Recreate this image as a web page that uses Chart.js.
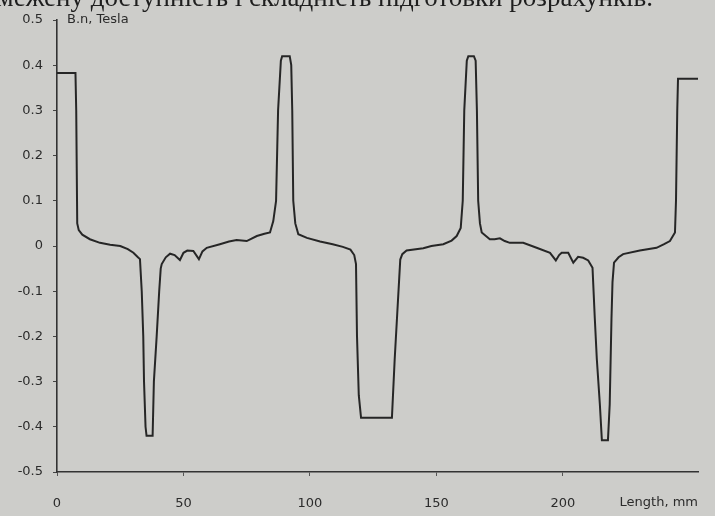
<!DOCTYPE html>
<html>
<head>
<meta charset="utf-8">
<script src="https://cdn.jsdelivr.net/npm/chart.js@4.4.1/dist/chart.umd.min.js"></script>
<style>
  html, body { margin: 0; padding: 0; background: #cdcdca; }
  canvas { display: block; }
</style>
</head>
<body>
<canvas id="chart" width="715" height="516"></canvas>
<script>
// position along the length, mm
const lengthMm = [
  0, 7.3, 7.6, 8.0, 8.6, 10, 13, 17, 21, 25, 28, 30.2, 32, 32.8,
  33.5, 34.1, 34.4, 35, 35.4, 37.8, 38.3, 39.4, 40.4, 41, 41.4,
  43, 44.7, 46.5, 48.6, 50, 51.5, 53.9, 56.1, 57.5, 59.2, 64.4, 68,
  71, 75, 79, 82, 84.2, 85.5, 86.6, 87.4, 88.5, 89, 91.5, 92, 92.6,
  93, 93.4, 94.2, 95.4, 98.8, 104, 109, 113, 116, 117.5, 118.2, 118.6,
  119.3, 120.2, 132.4, 133.5, 134.5, 135.3, 135.7, 136.5, 138.2, 144.8,
  148, 152.7, 156, 158, 159.6, 160.4, 161, 162, 162.6, 164.8, 165.5,
  166, 166.5, 167.2, 167.9, 171.1, 173, 175.1, 177, 179, 184.3, 189.6,
  194.9, 197.2, 198.5, 199.5, 202.1, 204.1, 206, 208, 210, 211.7, 212.6,
  213.4, 214.6, 215.4, 217.8, 218.5, 219.2, 219.6, 220.2, 222, 223.8,
  230.4, 237, 240, 242.3, 244.3, 244.7, 245.2, 245.5, 253.4
];
// normal component of flux density, Tesla
const bTesla = [
  0.383, 0.383, 0.3, 0.05, 0.035, 0.025, 0.015, 0.007, 0.003, 0.0, -0.007, -0.015, -0.025, -0.029,
  -0.1, -0.2, -0.3, -0.4, -0.42, -0.42, -0.3, -0.2, -0.1, -0.05, -0.04,
  -0.025, -0.017, -0.02, -0.031, -0.015, -0.01, -0.011, -0.029, -0.012, -0.004, 0.004, 0.01,
  0.013, 0.011, 0.022, 0.027, 0.03, 0.055, 0.1, 0.3, 0.41, 0.42, 0.42, 0.42, 0.4,
  0.3, 0.1, 0.05, 0.026, 0.018, 0.01, 0.004, -0.002, -0.008, -0.02, -0.04, -0.2,
  -0.33, -0.38, -0.38, -0.25, -0.15, -0.07, -0.03, -0.018, -0.01, -0.005,
  0.0, 0.004, 0.012, 0.022, 0.04, 0.1, 0.3, 0.41, 0.42, 0.42, 0.41,
  0.3, 0.1, 0.05, 0.03, 0.015, 0.015, 0.017, 0.011, 0.007, 0.007, -0.004,
  -0.015, -0.032, -0.02, -0.015, -0.015, -0.037, -0.024, -0.026, -0.032, -0.048, -0.16,
  -0.25, -0.35, -0.43, -0.43, -0.35, -0.16, -0.08, -0.037, -0.025, -0.018,
  -0.01, -0.004, 0.004, 0.011, 0.03, 0.1, 0.3, 0.37, 0.37
];
const xTicks = [0, 50, 100, 150, 200];
const yAxisTitle = 'B.n, Tesla';
const xAxisTitle = 'Length, mm';
const pageLine = 'межену доступність і складність підготовки розрахунків.';

const points = lengthMm.map((x, i) => ({ x: x, y: bTesla[i] }));

// captions next to the axes, plus the cut-off line of page text above
const captions = {
  id: 'captions',
  afterDraw(chart) {
    const ctx = chart.ctx;
    const area = chart.chartArea;
    ctx.save();
    ctx.fillStyle = '#2b2b2b';
    ctx.font = '13px "DejaVu Sans"';
    ctx.textBaseline = 'middle';
    ctx.textAlign = 'left';
    ctx.fillText(yAxisTitle, area.left + 10, area.top);
    ctx.textAlign = 'right';
    ctx.fillText(xAxisTitle, area.right, 503);
    ctx.fillStyle = '#1e1e1e';
    ctx.font = '27px "Liberation Serif"';
    ctx.textBaseline = 'alphabetic';
    ctx.fillText(pageLine, 653, 6);
    ctx.restore();
  }
};

new Chart(document.getElementById('chart').getContext('2d'), {
  type: 'scatter',
  data: {
    datasets: [{
      data: points,
      showLine: true,
      borderColor: '#262626',
      borderWidth: 2,
      pointRadius: 0,
      tension: 0
    }]
  },
  options: {
    responsive: false,
    animation: false,
    layout: { padding: { top: 20, right: 17, left: 0, bottom: 0 } },
    plugins: { legend: { display: false }, tooltip: { enabled: false } },
    scales: {
      x: {
        type: 'linear',
        min: 0,
        max: 253.4,
        afterFit: s => { s.height = 44; },
        afterBuildTicks: s => { s.ticks = xTicks.map(v => ({ value: v })); },
        border: { display: true, color: '#333', width: 1.6 },
        grid: { drawOnChartArea: false, drawTicks: true, tickLength: 4, color: '#555' },
        ticks: {
          padding: 20,
          color: '#2b2b2b',
          font: { family: 'DejaVu Sans', size: 13 },
          maxRotation: 0
        }
      },
      y: {
        min: -0.5,
        max: 0.5,
        afterFit: s => { s.width = 57; },
        border: { display: true, color: '#333', width: 1.6 },
        grid: { drawOnChartArea: false, drawTicks: true, tickLength: 4, color: '#444' },
        ticks: {
          stepSize: 0.1,
          padding: 10,
          color: '#2b2b2b',
          font: { family: 'DejaVu Sans', size: 13 },
          callback: v => Math.abs(v) < 1e-9 ? '0' : v.toFixed(1)
        }
      }
    }
  },
  plugins: [captions]
});
</script>
</body>
</html>
